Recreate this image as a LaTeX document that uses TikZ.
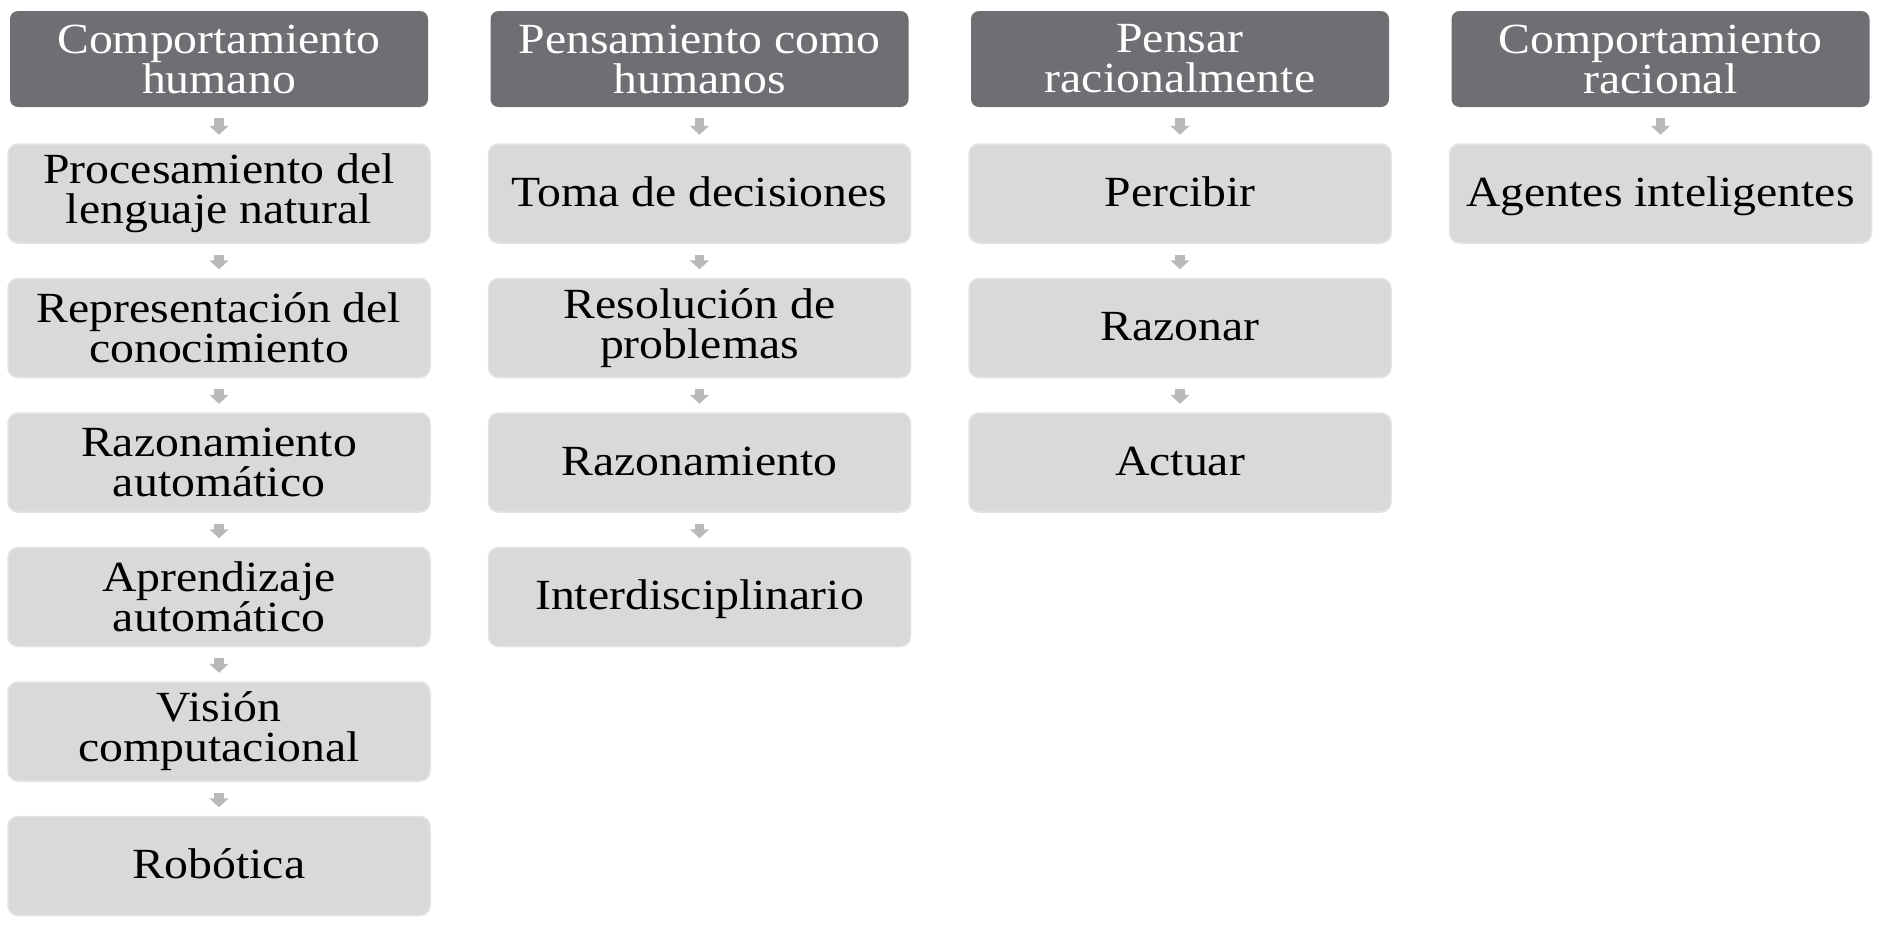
\documentclass[tikz,border=0pt]{standalone}
\usepackage{fontspec}
\setmainfont[FakeStretch=1.11]{Liberation Serif}
\usetikzlibrary{arrows.meta}
\definecolor{hdr}{HTML}{6F6E73}
\definecolor{itemfill}{HTML}{D9D9D9}
\definecolor{itemline}{HTML}{E3E3E3}
\definecolor{arrc}{HTML}{B9B9BB}
\begin{document}
\begin{tikzpicture}[x=1pt,y=-1pt,
  hdrbox/.style={fill=hdr, rounded corners=8pt, minimum width=418pt, minimum height=96pt,
    inner sep=0pt, text=white, align=center, font=\fontsize{43}{40}\selectfont},
  itembox/.style={fill=itemfill, draw=itemline, line width=1.5pt, rounded corners=10pt,
    minimum width=422pt, minimum height=99pt, inner sep=0pt, align=center,
    font=\fontsize{43}{40}\selectfont},
  oneline/.style={text height=32pt, text depth=7pt},
  conn/.style={draw=arrc, line width=9.5pt, -{Triangle[width=19pt,length=9pt]},
    shorten <=11pt, shorten >=8.5pt}]
\useasboundingbox (0,0) rectangle (1884,930);
% column 1
\node[hdrbox] (h1) at (219,59) {Comportamiento\\humano};
\node[itembox] (a1) at (219,193.5) {Procesamiento del\\lenguaje natural};
\node[itembox] (a2) at (219,328) {Representación del\\conocimiento};
\node[itembox] (a3) at (219,462.5) {Razonamiento\\automático};
\node[itembox] (a4) at (219,597) {Aprendizaje\\automático};
\node[itembox] (a5) at (219,731.5) {Visión\\computacional};
\node[itembox, oneline] (a6) at (219,866) {Robótica};
\draw[conn] (h1) -- (a1);
\draw[conn] (a1) -- (a2);
\draw[conn] (a2) -- (a3);
\draw[conn] (a3) -- (a4);
\draw[conn] (a4) -- (a5);
\draw[conn] (a5) -- (a6);
% column 2
\node[hdrbox] (h2) at (699.5,59) {Pensamiento como\\humanos};
\node[itembox, oneline] (b1) at (699.5,193.5) {Toma de decisiones};
\node[itembox] (b2) at (699.5,328) {Resolución de\\problemas};
\node[itembox, oneline] (b3) at (699.5,462.5) {Razonamiento};
\node[itembox, oneline] (b4) at (699.5,597) {Interdisciplinario};
\draw[conn] (h2) -- (b1);
\draw[conn] (b1) -- (b2);
\draw[conn] (b2) -- (b3);
\draw[conn] (b3) -- (b4);
% column 3
\node[hdrbox] (h3) at (1180,59) {Pensar\\racionalmente};
\node[itembox, oneline] (c1) at (1180,193.5) {Percibir};
\node[itembox, oneline] (c2) at (1180,328) {Razonar};
\node[itembox, oneline] (c3) at (1180,462.5) {Actuar};
\draw[conn] (h3) -- (c1);
\draw[conn] (c1) -- (c2);
\draw[conn] (c2) -- (c3);
% column 4
\node[hdrbox] (h4) at (1660.5,59) {Comportamiento\\racional};
\node[itembox, oneline] (d1) at (1660.5,193.5) {Agentes inteligentes};
\draw[conn] (h4) -- (d1);
\end{tikzpicture}
\end{document}
